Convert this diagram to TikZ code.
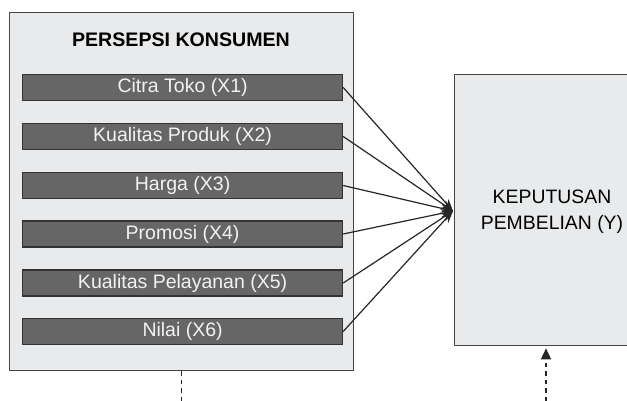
\documentclass[tikz,border=0pt]{standalone}
\usepackage{fontspec}
\setmainfont{Liberation Sans}
\usetikzlibrary{arrows.meta}
\definecolor{boxfill}{HTML}{E8EAEB}
\definecolor{barfill}{HTML}{666666}
\definecolor{edge}{HTML}{444444}
\begin{document}
\begin{tikzpicture}[x=1pt,y=-1pt,
  panel/.style={draw=edge,line width=1.3pt,fill=boxfill},
  bar/.style={draw=black!80,line width=1.2pt,fill=barfill,minimum width=320pt,minimum height=26pt,
    inner sep=0pt,text=white!95!black,font=\fontsize{19.5}{20}\selectfont,anchor=west},
  link/.style={draw=black!85,line width=1.2pt,-{Stealth[length=12pt,width=9pt]}},
  dashline/.style={draw=black!85,line width=1.5pt,dash pattern=on 4.5pt off 4pt}]
\clip (0,0) rectangle (627,401);
\fill[white] (0,0) rectangle (627,401);
\node[panel,minimum width=344pt,minimum height=358pt,anchor=north west,inner sep=0pt] (left) at (9,12) {};
\node[font=\bfseries\fontsize{19.6}{20}\selectfont] (title) at (181,40) {PERSEPSI KONSUMEN};
\node[bar] (x1) at (22,87.5) {Citra Toko (X1)};
\node[bar] (x2) at (22,136.5) {Kualitas Produk (X2)};
\node[bar] (x3) at (22,185.5) {Harga (X3)};
\node[bar] (x4) at (22,234) {Promosi (X4)};
\node[bar] (x5) at (22,283) {Kualitas Pelayanan (X5)};
\node[bar] (x6) at (22,331.5) {Nilai (X6)};
\node[panel,minimum width=190pt,minimum height=271pt,anchor=north west,inner sep=0pt] (y) at (454,74) {};
\node[font=\fontsize{19.4}{26}\selectfont,align=center] (ytext) at (552,212) {KEPUTUSAN\\PEMBELIAN (Y)};
\coordinate (tip) at (453,211);
\foreach \i in {1,...,6} {\draw[link] (x\i.east) -- (tip);}
\coordinate (lbot) at (181.5,401);
\draw[dashline] (left.south -| lbot) -- (lbot);
\coordinate (rbot) at (546,401);
\draw[dashline,shorten >=2pt,-{Triangle[length=11pt,width=10pt]}] (rbot) -- (rbot |- y.south);
\end{tikzpicture}
\end{document}
